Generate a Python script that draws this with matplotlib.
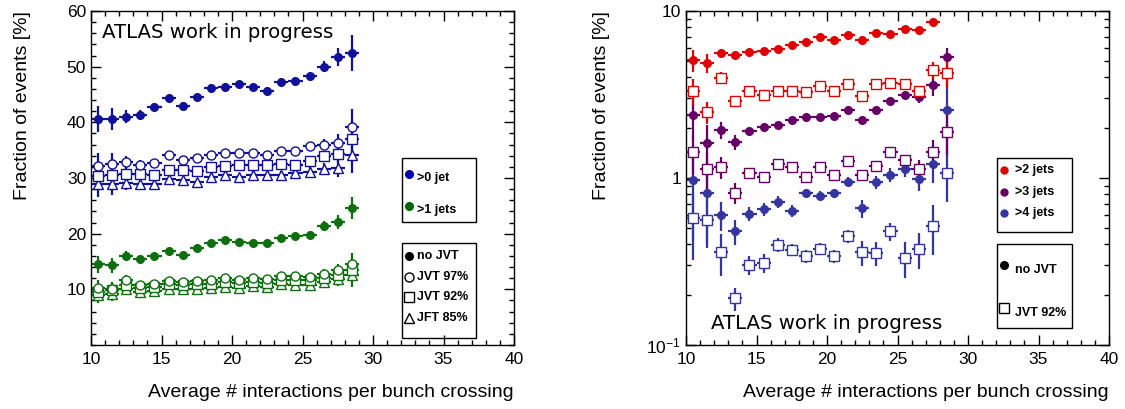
import numpy as np
import matplotlib
matplotlib.use('Agg')
import matplotlib.pyplot as plt
from matplotlib.patches import Rectangle
from matplotlib.ticker import MultipleLocator, LogLocator, FixedLocator, NullFormatter

plt.rcParams['font.family'] = ['Liberation Sans', 'DejaVu Sans']
plt.rcParams['mathtext.default'] = 'regular'

# bin centres of <mu>
mu = [10.5, 11.5, 12.5, 13.5, 14.5, 15.5, 16.5, 17.5, 18.5, 19.5,
      20.5, 21.5, 22.5, 23.5, 24.5, 25.5, 26.5, 27.5, 28.5]

# left panel: >0 jet / >1 jets
gt0_nojvt = [40.6, 40.6, 41.0, 41.3, 42.7, 44.4, 43.0, 44.5, 46.2, 46.4,
             46.9, 46.3, 45.7, 47.2, 47.5, 48.3, 50.0, 51.7, 52.4]
gt0_jvt97 = [32.1, 32.6, 32.8, 32.4, 32.7, 34.1, 33.2, 33.6, 34.2, 34.5,
             34.5, 34.5, 34.2, 34.8, 34.9, 35.7, 36.0, 36.3, 39.2]
gt0_jvt92 = [30.3, 30.5, 30.8, 30.8, 30.6, 31.5, 31.4, 31.2, 32.0, 32.1,
             32.3, 32.4, 32.3, 32.6, 32.4, 33.0, 33.9, 34.4, 37.0]
gt0_jft85 = [28.9, 28.9, 29.1, 29.0, 29.0, 29.9, 29.6, 29.3, 30.2, 30.5,
             30.1, 30.6, 30.5, 30.6, 30.9, 31.1, 31.7, 31.8, 34.1]
gt0_err = [2.4, 1.9, 1.2, 0.9, 0.7, 0.6, 0.6, 0.6, 0.6, 0.6,
           0.6, 0.6, 0.6, 0.7, 0.7, 0.8, 1.0, 1.6, 3.2]

gt1_nojvt = [14.5, 14.3, 16.0, 15.4, 16.0, 16.9, 16.1, 17.4, 18.3, 18.9,
             18.5, 18.4, 18.4, 19.3, 19.5, 19.8, 21.3, 22.1, 24.6]
gt1_jvt97 = [10.2, 10.0, 11.6, 10.8, 10.9, 11.5, 11.3, 11.5, 11.6, 12.1,
             11.6, 12.1, 11.8, 12.4, 12.4, 12.2, 12.7, 13.4, 14.6]
gt1_jvt92 = [9.5, 9.8, 10.8, 10.2, 10.4, 10.9, 10.8, 10.9, 11.0, 11.3,
             11.1, 11.4, 11.2, 11.7, 11.7, 11.6, 12.1, 12.6, 13.5]
gt1_jft85 = [9.0, 9.2, 10.0, 9.6, 9.7, 10.1, 10.0, 10.1, 10.3, 10.5,
             10.3, 10.6, 10.5, 10.9, 10.8, 10.8, 11.3, 11.8, 12.5]
gt1_err = [1.5, 1.3, 0.9, 0.7, 0.6, 0.5, 0.5, 0.5, 0.5, 0.5,
           0.5, 0.5, 0.5, 0.5, 0.6, 0.7, 0.9, 1.2, 2.0]

# right panel: >2 / >3 / >4 jets (log scale)
gt2_nojvt = [5.09, 4.88, 5.60, 5.45, 5.65, 5.78, 5.92, 6.25, 6.48, 6.94,
             6.69, 7.20, 6.69, 7.43, 7.27, 7.85, 7.68, 8.64]
gt2_nojvt_err = [0.75, 0.63, 0.35, 0.25, 0.2, 0.2, 0.2, 0.2, 0.2, 0.2,
                 0.2, 0.2, 0.2, 0.2, 0.2, 0.25, 0.3, 0.45]
gt2_jvt92 = [3.34, 2.48, 3.97, 2.91, 3.30, 3.16, 3.34, 3.34, 3.26, 3.58,
             3.31, 3.63, 3.09, 3.63, 3.71, 3.63, 3.31, 4.44, 4.24]
gt2_jvt92_err = [0.6, 0.37, 0.32, 0.15, 0.12, 0.1, 0.1, 0.1, 0.1, 0.1,
                 0.1, 0.1, 0.1, 0.1, 0.12, 0.15, 0.27, 0.5, 0.8]

gt3_nojvt = [2.37, 1.61, 1.93, 1.64, 1.90, 2.02, 2.09, 2.21, 2.32, 2.32,
             2.35, 2.54, 2.21, 2.54, 2.91, 3.12, 3.05, 3.61, 5.27]
gt3_nojvt_err = [0.7, 0.48, 0.22, 0.16, 0.1, 0.08, 0.08, 0.08, 0.08, 0.08,
                 0.08, 0.08, 0.1, 0.1, 0.12, 0.15, 0.25, 0.5, 0.75]
gt3_jvt92 = [1.43, 1.13, 1.16, 0.818, 1.07, 1.01, 1.21, 1.16, 1.01, 1.16,
             1.04, 1.27, 1.04, 1.18, 1.43, 1.28, 1.13, 1.43, 1.89]
gt3_jvt92_err = [0.39, 0.29, 0.17, 0.12, 0.07, 0.06, 0.06, 0.06, 0.06, 0.06,
                 0.06, 0.06, 0.06, 0.07, 0.1, 0.1, 0.15, 0.27, 0.5]

gt4_nojvt = [0.973, 0.818, 0.602, 0.479, 0.611, 0.651, 0.723, 0.636, 0.811, 0.785,
             0.811, 0.951, 0.660, 0.943, 1.04, 1.13, 0.986, 1.21, 2.54]
gt4_nojvt_err = [0.55, 0.42, 0.12, 0.08, 0.06, 0.06, 0.06, 0.05, 0.05, 0.05,
                 0.05, 0.06, 0.08, 0.08, 0.1, 0.12, 0.15, 0.28, 1.2]
gt4_jvt92 = [0.575, 0.562, 0.359, 0.190, 0.303, 0.311, 0.399, 0.373, 0.340, 0.376,
             0.340, 0.447, 0.359, 0.356, 0.479, 0.333, 0.376, 0.518, 1.07]
gt4_jvt92_err = [0.25, 0.18, 0.1, 0.03, 0.04, 0.04, 0.04, 0.03, 0.03, 0.03,
                 0.03, 0.04, 0.06, 0.06, 0.06, 0.08, 0.09, 0.17, 0.35]

BLUE = '#10109a'
GREEN = '#0f6e0f'
RED = '#e00000'
PURPLE = '#660066'
BLUE2 = '#3535a0'


def draw(ax, x, y, err, color, marker, ms, filled):
    ax.errorbar(x, y, yerr=err, xerr=0.5, fmt=marker, color=color, ms=ms,
                mfc=color if filled else 'white', mec=color, mew=1.0,
                elinewidth=1.6, capsize=0)


def style(ax):
    ax.set_xlim(10, 40)
    ax.xaxis.set_major_locator(MultipleLocator(5))
    ax.xaxis.set_minor_locator(MultipleLocator(1))
    ax.tick_params(which='both', direction='in', top=True, right=True, labelsize=12.5, width=1.0)
    ax.tick_params(which='major', length=7)
    ax.tick_params(which='minor', length=3.8)
    ax.tick_params(axis='x', pad=5)
    ax.set_xlabel('Average # interactions per bunch crossing', fontsize=14, loc='right', labelpad=12)
    ax.set_ylabel('Fraction of events [%]', fontsize=14, loc='top', labelpad=26)
    for s in ax.spines.values():
        s.set_linewidth(1.0)


def legend_box(ax, x0, y0, x1, y1):
    ax.add_patch(Rectangle((x0, y0), x1 - x0, y1 - y0, transform=ax.transAxes,
                           fill=False, edgecolor='black', lw=1.0, clip_on=False, zorder=10))


def legend_entry(ax, x, y, text, marker, color, ms, filled=True, dy=0.0, gap=0.02):
    ax.plot([x], [y + dy], marker=marker, ms=ms, color=color, mec=color,
            mfc=color if filled else 'white', mew=1.0,
            transform=ax.transAxes, clip_on=False, zorder=11)
    ax.text(x + gap, y, text, transform=ax.transAxes, fontsize=9,
            fontweight='bold', va='center', ha='left', zorder=11)


def ax_x(ax_left, px):
    return (px - ax_left) / 423


def ax_y(py):
    return (345 - py) / 334


fig = plt.figure(figsize=(11.25, 4.09), dpi=100)
ax1 = fig.add_axes([91 / 1125, 64 / 409, 423 / 1125, 334 / 409])
ax2 = fig.add_axes([686 / 1125, 64 / 409, 423 / 1125, 334 / 409])

# ---- left panel
draw(ax1, mu, gt0_jft85, gt0_err, BLUE, '^', 6.5, False)
draw(ax1, mu, gt0_jvt92, gt0_err, BLUE, 's', 6.5, False)
draw(ax1, mu, gt0_jvt97, gt0_err, BLUE, 'o', 6.5, False)
draw(ax1, mu, gt0_nojvt, gt0_err, BLUE, 'o', 5.5, True)
draw(ax1, mu, gt1_jft85, gt1_err, GREEN, '^', 6.5, False)
draw(ax1, mu, gt1_jvt92, gt1_err, GREEN, 's', 6.5, False)
draw(ax1, mu, gt1_jvt97, gt1_err, GREEN, 'o', 6.5, False)
draw(ax1, mu, gt1_nojvt, gt1_err, GREEN, 'o', 5.5, True)
ax1.set_ylim(0, 60)
ax1.yaxis.set_major_locator(MultipleLocator(10))
ax1.yaxis.set_minor_locator(MultipleLocator(2))
ax1.set_yticks([10, 20, 30, 40, 50, 60])
style(ax1)
ax1.text(0.025, 0.935, 'ATLAS work in progress', transform=ax1.transAxes,
         family='DejaVu Sans', fontsize=14.2, va='center', ha='left')

legend_box(ax1, ax_x(91, 402), ax_y(222), ax_x(91, 476), ax_y(158))
legend_entry(ax1, ax_x(91, 409), ax_y(178), '>0 jet', 'o', '#0000b0', 5.5, dy=0.012)
legend_entry(ax1, ax_x(91, 409), ax_y(210), '>1 jets', 'o', '#006600', 5.5, dy=0.012)
legend_box(ax1, ax_x(91, 402), ax_y(338), ax_x(91, 476), ax_y(243))
legend_entry(ax1, ax_x(91, 409), ax_y(256), 'no JVT', 'o', 'black', 5.5)
legend_entry(ax1, ax_x(91, 409), ax_y(277), 'JVT 97%', 'o', 'black', 6.5, False)
legend_entry(ax1, ax_x(91, 409), ax_y(297), 'JVT 92%', 's', 'black', 6.5, False)
legend_entry(ax1, ax_x(91, 409), ax_y(318), 'JFT 85%', '^', 'black', 6.5, False)

# ---- right panel
draw(ax2, mu, gt4_jvt92, gt4_jvt92_err, BLUE2, 's', 7, False)
draw(ax2, mu, gt4_nojvt, gt4_nojvt_err, BLUE2, 'o', 5.5, True)
draw(ax2, mu, gt3_jvt92, gt3_jvt92_err, PURPLE, 's', 7, False)
draw(ax2, mu, gt3_nojvt, gt3_nojvt_err, PURPLE, 'o', 5.5, True)
draw(ax2, mu, gt2_jvt92, gt2_jvt92_err, RED, 's', 7, False)
draw(ax2, mu[:len(gt2_nojvt)], gt2_nojvt, gt2_nojvt_err, RED, 'o', 5.5, True)
ax2.set_yscale('log')
ax2.set_ylim(0.1, 10)
ax2.yaxis.set_major_locator(FixedLocator([0.1, 1, 10]))
ax2.set_yticklabels(['$10^{-1}$', '1', '10'])
ax2.yaxis.set_minor_locator(LogLocator(base=10, subs=np.arange(2, 10)))
ax2.yaxis.set_minor_formatter(NullFormatter())
style(ax2)
ax2.text(0.06, 0.065, 'ATLAS work in progress', transform=ax2.transAxes,
         family='DejaVu Sans', fontsize=14.2, va='center', ha='left')

legend_box(ax2, ax_x(686, 997), ax_y(232), ax_x(686, 1072), ax_y(158))
legend_entry(ax2, ax_x(686, 1004), ax_y(170), '>2 jets', 'o', RED, 5, gap=0.026)
legend_entry(ax2, ax_x(686, 1004), ax_y(192), '>3 jets', 'o', PURPLE, 5, gap=0.026)
legend_entry(ax2, ax_x(686, 1004), ax_y(213), '>4 jets', 'o', BLUE2, 5, gap=0.026)
legend_box(ax2, ax_x(686, 997), ax_y(328), ax_x(686, 1072), ax_y(244))
legend_entry(ax2, ax_x(686, 1004), ax_y(270), 'no JVT', 'o', 'black', 5.5, dy=0.016, gap=0.026)
legend_entry(ax2, ax_x(686, 1004), ax_y(313), 'JVT 92%', 's', 'black', 6.5, False, dy=0.016, gap=0.026)

fig.savefig('out.png', dpi=100)
